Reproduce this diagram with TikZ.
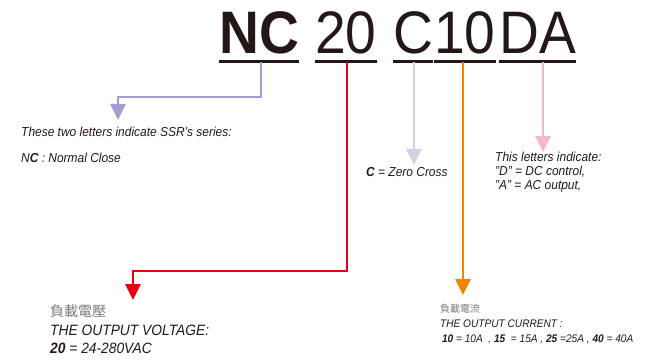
\documentclass[tikz,border=0pt]{standalone}
\usepackage{fontspec}
\setmainfont{Liberation Sans}[FakeStretch=0.92]
\newfontfamily\titlefont{Liberation Sans}[FakeStretch=0.92]
\newfontfamily\cjk{Noto Sans CJK TC}
\usetikzlibrary{arrows.meta}

\definecolor{inkblack}{HTML}{231815}
\definecolor{cjkgray}{HTML}{7A7A7A}
\definecolor{serpurple}{HTML}{A79BCF}
\definecolor{voltred}{HTML}{E60012}
\definecolor{zclav}{HTML}{D3CFE7}
\definecolor{curorange}{HTML}{F08300}
\definecolor{dcpink}{HTML}{F3B5CF}

\tikzset{
  code/.style={font=\titlefont\fontsize{60}{60}\selectfont, text=inkblack, inner sep=0, anchor=base west},
  uline/.style={draw=inkblack, line width=3pt},
  pointer/.style={line width=2.8pt, -{Triangle[length=16pt,width=15pt]}},
  note/.style={font=\itshape\fontsize{13}{14}\selectfont, text=inkblack, inner sep=0, anchor=north west, align=left},
}

\begin{document}
\begin{tikzpicture}[x=1pt,y=-1pt]
  \useasboundingbox (0,0) rectangle (649,361);

  %Code letters
  \node[code] (nc) at (219,54) {\bfseries NC};
  \node[code] (volt) at (315,54) {20};
  \node[code] (zc) at (393,54) {C};
  \node[code] (cur) at (434,54) {10};
  \node[code] (dcac) at (499,54) {DA};
  \foreach \n in {nc,volt,zc,cur,dcac}{
    \draw[uline] ([yshift=-8pt]\n.base west) -- ([yshift=-8pt]\n.base east);
    \coordinate (\n u) at ([yshift=-8pt]\n.base);
  }

  %Series
  \node[note] (series) at (21,127) {These two letters indicate SSR's series:};
  \node[note] (ncnote) at (21,153) {N\textbf{C} : Normal Close};
  \coordinate (sertip) at (118,120);
  \draw[pointer, serpurple] ([xshift=2pt]ncu) -- ++(0,35) -| (sertip);

  %Output voltage
  \node[note, font=\itshape\fontsize{15}{18.5}\selectfont] (voltnote) at (50,305)
    {{\upshape\cjk\color{cjkgray}\fontsize{14}{18.5}\selectfont 負載電壓}\\THE OUTPUT VOLTAGE:\\\textbf{20} = 24-280VAC};
  \coordinate (volttip) at (133,300);
  \draw[pointer, voltred] ([xshift=1pt]voltu) -- ++(0,209) -| (volttip);

  %Zero cross
  \node[note] (zeronote) at (366,167) {\textbf{C} = Zero Cross};
  \coordinate (zctip) at (414,165);
  \draw[pointer, zclav] (zcu -| zctip) -- (zctip);

  %Output current
  \node[note, font=\itshape\fontsize{11}{15}\selectfont] (curnote) at (440,304)
    {{\upshape\cjk\color{cjkgray}\fontsize{10}{15}\selectfont 負載電流}\\THE OUTPUT CURRENT :\\
     \,\textbf{10} = 10A\ \ , \textbf{15}\ \ = 15A , \textbf{25} =25A , \textbf{40} = 40A};
  \coordinate (curtip) at (463,295);
  \draw[pointer, curorange] (curu -| curtip) -- (curtip);

  %DC control / AC output
  \node[note] (dcnote) at (495,152) {This letters indicate:\\"D" = DC control,\\"A" = AC output,};
  \coordinate (dctip) at (543,152);
  \draw[pointer, dcpink] (dcacu -| dctip) -- (dctip);
\end{tikzpicture}
\end{document}
